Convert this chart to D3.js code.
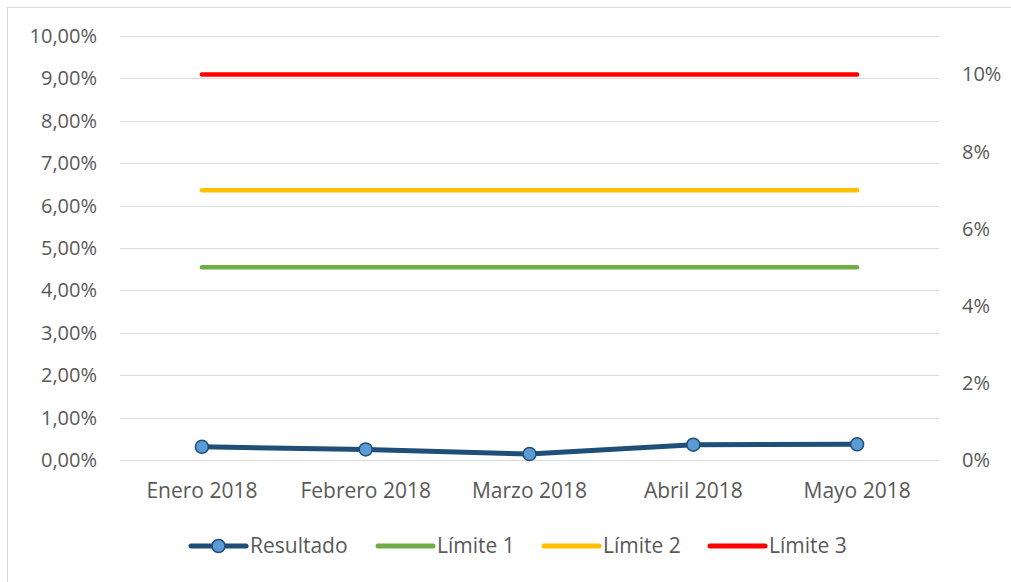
<!DOCTYPE html>
<html><head><meta charset="utf-8">
<script src="https://cdn.jsdelivr.net/npm/d3@7"></script>
<style>
html,body{margin:0;padding:0;background:#fff;}
svg text{font-family:"Open Sans",Lato,sans-serif;fill:#595959;}
</style></head>
<body>
<svg id="chart" width="1011" height="582"></svg>
<script>
const categories = ["Enero 2018","Febrero 2018","Marzo 2018","Abril 2018","Mayo 2018"];
const resultado = [0.0031, 0.0025, 0.0014, 0.0036, 0.0037];
const limite1 = [0.05, 0.05, 0.05, 0.05, 0.05];
const limite2 = [0.07, 0.07, 0.07, 0.07, 0.07];
const limite3 = [0.10, 0.10, 0.10, 0.10, 0.10];
const leftTicks = [0,0.01,0.02,0.03,0.04,0.05,0.06,0.07,0.08,0.09,0.10];
const rightTicks = [0,0.02,0.04,0.06,0.08,0.10];
const legendItems = ["Resultado","Límite 1","Límite 2","Límite 3"];
const limitColors = ["#70ad47","#ffc000","#ff0000"];

const svg = d3.select("#chart");
const W = 1011, H = 582;
const plot = {left:120, right:939, top:36, bottom:460};
const FS_AX = 20, FS = 21;
const FF = "'Open Sans',Lato,sans-serif";

// chart border (top and left)
svg.append("line").attr("x1",7).attr("x2",W).attr("y1",7.5).attr("y2",7.5).attr("stroke","#d9d9d9").attr("stroke-width",1.2);
svg.append("line").attr("x1",7.5).attr("x2",7.5).attr("y1",7).attr("y2",H).attr("stroke","#d9d9d9").attr("stroke-width",1.2);

const x = d3.scaleBand().domain(categories).range([plot.left, plot.right]);
const yL = d3.scaleLinear().domain([0,0.10]).range([plot.bottom, plot.top]);
const yR = d3.scaleLinear().domain([0,0.11]).range([plot.bottom, plot.top]);

const fmtL = d => (d*100).toFixed(2).replace(".",",") + "%";
const fmtR = d => Math.round(d*100) + "%";

// gridlines
svg.append("g").selectAll("line").data(leftTicks).join("line")
  .attr("x1",plot.left).attr("x2",plot.right)
  .attr("y1",d=>Math.round(yL(d))+0.5).attr("y2",d=>Math.round(yL(d))+0.5)
  .attr("stroke","#d9d9d9").attr("stroke-width",1);

// left axis
const gL = svg.append("g").attr("transform",`translate(${plot.left},0)`)
  .call(d3.axisLeft(yL).tickValues(leftTicks).tickFormat(fmtL).tickSize(0).tickPadding(23));
gL.select(".domain").remove();
gL.selectAll("text").attr("font-size",FS_AX).attr("fill","#595959").style("font-family",FF);

// right axis
const gR = svg.append("g").attr("transform",`translate(${plot.right},0)`)
  .call(d3.axisRight(yR).tickValues(rightTicks).tickFormat(fmtR).tickSize(0).tickPadding(23));
gR.select(".domain").remove();
gR.selectAll("text").attr("font-size",FS_AX).attr("fill","#595959").style("font-family",FF);

// bottom axis
const gB = svg.append("g").attr("transform",`translate(0,${plot.bottom})`)
  .call(d3.axisBottom(x).tickSize(0).tickPadding(23));
gB.select(".domain").remove();
gB.selectAll("text").attr("font-size",FS).attr("fill","#595959").style("font-family",FF);

const cx = d => x(d) + x.bandwidth()/2;

// limit lines (right axis)
[limite1, limite2, limite3].forEach((s,i)=>{
  svg.append("path").datum(s.map((v,j)=>[categories[j],v]))
    .attr("d", d3.line().x(d=>cx(d[0])).y(d=>yR(d[1])))
    .attr("fill","none").attr("stroke",limitColors[i]).attr("stroke-width",4.5).attr("stroke-linecap","round");
});

// resultado (left axis)
const rData = resultado.map((v,j)=>[categories[j],v]);
svg.append("path").datum(rData)
  .attr("d", d3.line().x(d=>cx(d[0])).y(d=>yL(d[1])))
  .attr("fill","none").attr("stroke","#1f4e79").attr("stroke-width",5).attr("stroke-linejoin","round");
svg.append("g").selectAll("circle").data(rData).join("circle")
  .attr("cx",d=>cx(d[0])).attr("cy",d=>yL(d[1])).attr("r",6.5)
  .attr("fill","#5b9bd5").attr("stroke","#1f4e79").attr("stroke-width",1.5);

// legend
const legY = 546;
const legX = [191, 378, 544, 710];
const legColors = ["#1f4e79"].concat(limitColors);
legendItems.forEach((name,i)=>{
  const g = svg.append("g");
  g.append("line").attr("x1",legX[i]).attr("x2",legX[i]+55).attr("y1",legY).attr("y2",legY)
    .attr("stroke",legColors[i]).attr("stroke-width",5).attr("stroke-linecap","round");
  if(i===0){
    g.append("circle").attr("cx",legX[i]+27.5).attr("cy",legY).attr("r",6.5)
      .attr("fill","#5b9bd5").attr("stroke","#1f4e79").attr("stroke-width",1.5);
  }
  g.append("text").attr("x",legX[i]+59).attr("y",legY).attr("dy","0.35em")
    .attr("font-size",FS).style("font-family",FF).text(name);
});
</script>
</body></html>
